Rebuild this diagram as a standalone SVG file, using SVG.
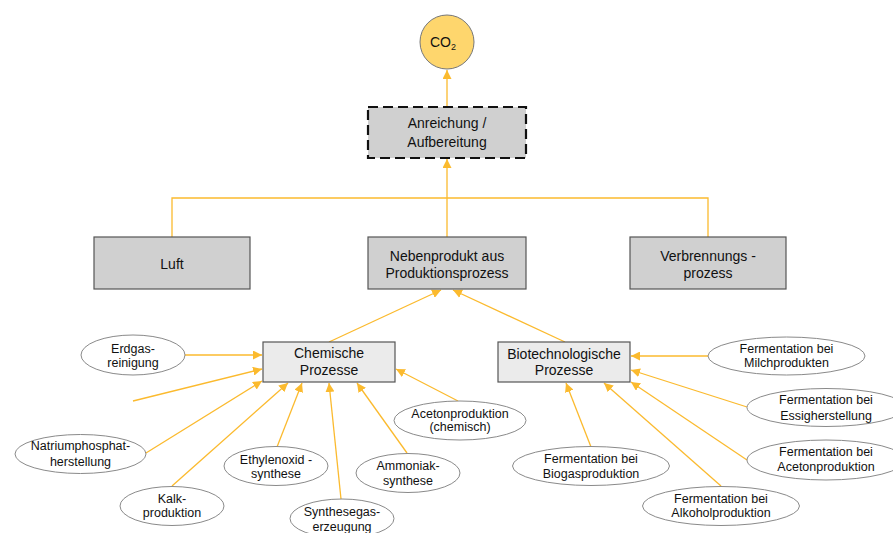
<svg xmlns="http://www.w3.org/2000/svg" width="893" height="533" viewBox="0 0 893 533">
<style>
text{font-family:"Liberation Sans",Arial,sans-serif;fill:#111;text-anchor:middle}
.b{font-size:14px}
.e{font-size:12.5px}
.box{fill:#d0d0d0;stroke:#555;stroke-width:1.2}
.pbox{fill:#ebebeb;stroke:#555;stroke-width:1.2}
.ell{fill:#fff;stroke:#8a8a8a;stroke-width:1}
.c{fill:none;stroke:#fbba2e;stroke-width:1.3}
.a{marker-end:url(#arr)}
</style>
<defs>
<marker id="arr" markerUnits="userSpaceOnUse" markerWidth="10" markerHeight="9" refX="9" refY="4.5" orient="auto">
<path d="M0,0 L9,4.5 L0,9 z" fill="#fbba2e"/>
</marker>
</defs>
<rect width="893" height="533" fill="#fff"/>
<g id="connectors">
<path class="c a" d="M447,107 V70"/>
<path class="c a" d="M447,237 V159"/>
<path class="c" d="M172,237 V198 H708 V237"/>
<path class="c a" d="M329,342 L441,290"/>
<path class="c a" d="M565,342 L453,290"/>
<path class="c a" d="M185,355 H262"/>
<path class="c a" d="M133,401 L262,369"/>
<path class="c a" d="M146,453 L262,381"/>
<path class="c a" d="M172,486 L288,383"/>
<path class="c a" d="M277,447 L302,383"/>
<path class="c a" d="M341,499 L329,383"/>
<path class="c a" d="M407,453 L357,383"/>
<path class="c a" d="M458,401 L396,369"/>
<path class="c a" d="M708,356 H631"/>
<path class="c a" d="M747,407 L631,370"/>
<path class="c a" d="M747,460 L631,382"/>
<path class="c a" d="M721,486 L604,383"/>
<path class="c a" d="M591,447 L566,383"/>
</g>
<g id="co2">
<circle cx="447" cy="42" r="27" fill="#fed66d" stroke="#777" stroke-width="1"/>
<text class="b" x="443" y="47">CO<tspan font-size="9" dy="3">2</tspan></text>
</g>
<g id="anreichung">
<rect x="368" y="107" width="158" height="51" fill="#d0d0d0" stroke="#111" stroke-width="2.2" stroke-dasharray="10,5"/>
<text class="b" x="447" y="128">Anreichung /</text>
<text class="b" x="447" y="146.5">Aufbereitung</text>
</g>
<g id="luft">
<rect class="box" x="94" y="237" width="156" height="52"/>
<text class="b" x="172" y="269">Luft</text>
</g>
<g id="nebenprodukt">
<rect class="box" x="368" y="237" width="158" height="52"/>
<text class="b" x="447" y="260.5">Nebenprodukt aus</text>
<text class="b" x="447" y="277.5">Produktionsprozess</text>
</g>
<g id="verbrennung">
<rect class="box" x="630" y="237" width="156" height="52"/>
<text class="b" x="708" y="260.5">Verbrennungs -</text>
<text class="b" x="708" y="277.5">prozess</text>
</g>
<g id="chemisch">
<rect class="pbox" x="263" y="342" width="132" height="40"/>
<text class="b" x="329" y="358">Chemische</text>
<text class="b" x="329" y="374.5">Prozesse</text>
</g>
<g id="biotech">
<rect class="pbox" x="498" y="342" width="132" height="40"/>
<text class="b" x="564" y="358.5">Biotechnologische</text>
<text class="b" x="564" y="375">Prozesse</text>
</g>
<g id="erdgas">
<ellipse class="ell" cx="133" cy="355" rx="52" ry="20"/>
<text class="e" x="133" y="352.5">Erdgas-</text>
<text class="e" x="133" y="367">reinigung</text>
</g>
<g id="natrium">
<ellipse class="ell" cx="80.5" cy="454" rx="65.5" ry="19.5"/>
<text class="e" x="80.5" y="450">Natriumphosphat-</text>
<text class="e" x="80.5" y="466">herstellung</text>
</g>
<g id="kalk">
<ellipse class="ell" cx="172" cy="506" rx="52" ry="19.5"/>
<text class="e" x="172" y="502.5">Kalk-</text>
<text class="e" x="172" y="517">produktion</text>
</g>
<g id="ethylenoxid">
<ellipse class="ell" cx="276" cy="466" rx="52" ry="19.5"/>
<text class="e" x="276" y="463.5">Ethylenoxid -</text>
<text class="e" x="276" y="478">synthese</text>
</g>
<g id="synthesegas">
<ellipse class="ell" cx="342" cy="518.5" rx="52" ry="19.5"/>
<text class="e" x="342" y="516">Synthesegas-</text>
<text class="e" x="342" y="531">erzeugung</text>
</g>
<g id="ammoniak">
<ellipse class="ell" cx="408" cy="473" rx="52" ry="19.5"/>
<text class="e" x="408" y="470">Ammoniak-</text>
<text class="e" x="408" y="485">synthese</text>
</g>
<g id="aceton-chem">
<ellipse class="ell" cx="460" cy="420.5" rx="66" ry="19.5"/>
<text class="e" x="460" y="417.5">Acetonproduktion</text>
<text class="e" x="460" y="431">(chemisch)</text>
</g>
<g id="milch">
<ellipse class="ell" cx="786.5" cy="356" rx="78.5" ry="19"/>
<text class="e" x="786.5" y="352.5">Fermentation bei</text>
<text class="e" x="786.5" y="366.5">Milchprodukten</text>
</g>
<g id="essig">
<ellipse class="ell" cx="826" cy="407.5" rx="79" ry="19"/>
<text class="e" x="826" y="403.5">Fermentation bei</text>
<text class="e" x="826" y="419.5">Essigherstellung</text>
</g>
<g id="aceton-ferm">
<ellipse class="ell" cx="826" cy="460" rx="79" ry="20"/>
<text class="e" x="826" y="456">Fermentation bei</text>
<text class="e" x="826" y="471">Acetonproduktion</text>
</g>
<g id="alkohol">
<ellipse class="ell" cx="721" cy="506" rx="78.5" ry="19.5"/>
<text class="e" x="721" y="502.5">Fermentation bei</text>
<text class="e" x="721" y="517">Alkoholproduktion</text>
</g>
<g id="biogas">
<ellipse class="ell" cx="591" cy="466" rx="78.5" ry="19.5"/>
<text class="e" x="591" y="462.5">Fermentation bei</text>
<text class="e" x="591" y="477.5">Biogasproduktion</text>
</g>
</svg>
